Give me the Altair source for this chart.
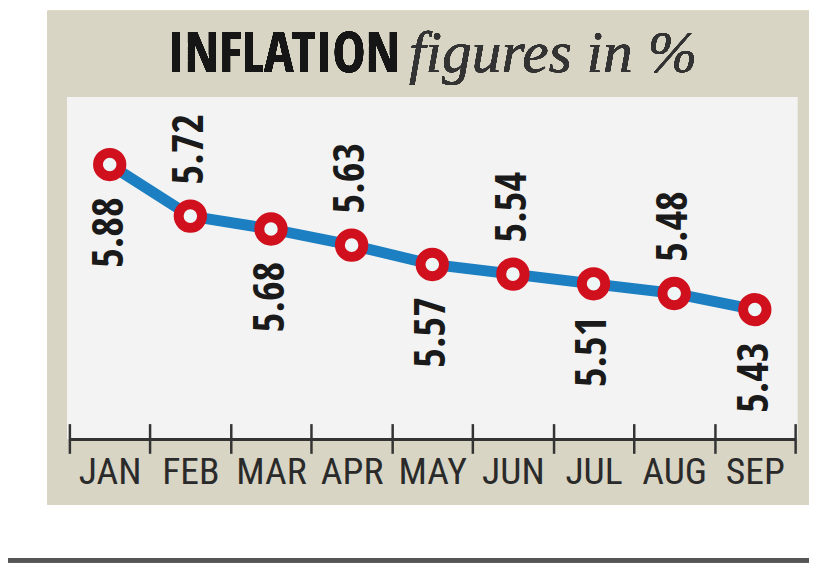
import altair as alt
import pandas as pd

months = ["JAN", "FEB", "MAR", "APR", "MAY", "JUN", "JUL", "AUG", "SEP"]
values = [5.88, 5.72, 5.68, 5.63, 5.57, 5.54, 5.51, 5.48, 5.43]
label_side = ["below", "above", "below", "above", "below", "above", "below", "above", "below"]

df = pd.DataFrame({"month": months, "value": values, "side": label_side})
df["label"] = df["value"].map(lambda v: f"{v:.2f}")

W, H = 733, 345
NARROW = "Open Sans Condensed, Roboto Condensed, DejaVu Sans Condensed, sans-serif"
NARROW_REG = "Roboto Condensed, Open Sans Condensed, DejaVu Sans Condensed, sans-serif"

x_enc = alt.X("month:N", sort=months,
              scale=alt.Scale(paddingInner=0, paddingOuter=0),
              axis=alt.Axis(title=None, labelAngle=0, domain=False, grid=False,
                            ticks=True, tickBand="extent", tickSize=30, tickWidth=2.5,
                            tickColor="#333333", offset=-15, labelPadding=0,
                            labelFont=NARROW_REG, labelFontSize=38, labelColor="#2a2a2a",
                            labelFontWeight="normal", zindex=1))
y_enc = alt.Y("value:Q", scale=alt.Scale(domain=[5.03, 6.09], nice=False, zero=False),
              axis=None)

base = alt.Chart(df)

panel = base.mark_rect(color="#d9d5c4").encode(
    x=alt.value(-22), x2=alt.value(747), y=alt.value(-87), y2=alt.value(412))
inner = base.mark_rect(color="#f3f3f3").encode(
    x=alt.value(-2), x2=alt.value(735), y=alt.value(0), y2=alt.value(H))
bottom_line = base.mark_rule(color="#555555", strokeWidth=4).encode(
    x=alt.value(-62), x2=alt.value(747), y=alt.value(468))
axis_line = base.mark_rule(color="#333333", strokeWidth=3).encode(
    x=alt.value(0), x2=alt.value(W), y=alt.value(H + 1))

title_a = base.mark_text(text="INFLATION", font=NARROW, fontWeight="bold", fontSize=56,
                         color="#161616", align="right", baseline="alphabetic").encode(
    x=alt.value(334), y=alt.value(-25))
title_b = base.mark_text(text="figures in %", font="Liberation Serif", fontStyle="italic",
                         fontSize=60, color="#333333", align="left", baseline="alphabetic").encode(
    x=alt.value(343), y=alt.value(-25))

line = base.mark_line(color="#1b7fc2", strokeWidth=11).encode(x=x_enc, y=y_enc)
points = base.mark_point(shape="circle", size=560, fill="#eef6f6", stroke="#d0101c",
                         strokeWidth=10, opacity=1, fillOpacity=1).encode(x=x_enc, y=y_enc)

lab_below = base.transform_filter(alt.datum.side == "below").mark_text(
    angle=270, align="right", baseline="middle", dx=-33, font=NARROW, fontWeight="bold",
    fontSize=43, color="#1a1a1a").encode(x=x_enc, y=y_enc, text="label:N")
lab_above = base.transform_filter(alt.datum.side == "above").mark_text(
    angle=270, align="left", baseline="middle", dx=32, font=NARROW, fontWeight="bold",
    fontSize=43, color="#1a1a1a").encode(x=x_enc, y=y_enc, text="label:N")

chart = alt.layer(panel, inner, bottom_line, title_a, title_b, line, axis_line, points,
                  lab_below, lab_above).properties(
    width=W, height=H,
    autosize=alt.AutoSizeParams(type="none"),
    padding={"left": 62, "top": 87, "right": 14, "bottom": 124},
    background="white",
).configure_view(stroke=None)

chart.save("out.html", embed_options={"renderer": "svg", "actions": False})
